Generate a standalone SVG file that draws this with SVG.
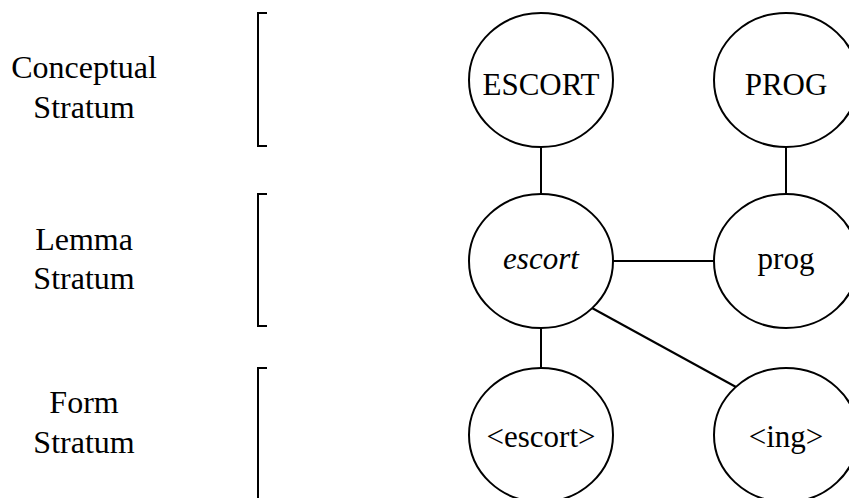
<svg xmlns="http://www.w3.org/2000/svg" width="849" height="498" viewBox="0 0 849 498">
<style>
.n{fill:#fff;stroke:#000;stroke-width:2}
.c{stroke:#000;stroke-width:2;fill:none}
.b{stroke:#000;stroke-width:2;fill:none}
.tx{font-family:'Liberation Serif','DejaVu Serif',serif;fill:#000;text-anchor:middle}
.t{font-size:31px}
.l{font-size:32px}
</style>
<rect width="849" height="498" fill="#fff"/>
<g id="labels" class="tx">
<text class="l" x="84" y="78">Conceptual</text>
<text class="l" x="84" y="118">Stratum</text>
<text class="l" x="84" y="250">Lemma</text>
<text class="l" x="84" y="289">Stratum</text>
<text class="l" x="84" y="413">Form</text>
<text class="l" x="84" y="453">Stratum</text>
</g>
<g id="brackets">
<path class="b" d="M267 13 H258 V146 H267"/>
<path class="b" d="M267 194 H258 V326 H267"/>
<path class="b" d="M267 368 H258 V500"/>
</g>
<g id="connectors">
<line class="c" x1="541" y1="147" x2="541" y2="194"/>
<line class="c" x1="786" y1="147" x2="786" y2="194"/>
<line class="c" x1="613" y1="261" x2="715" y2="261"/>
<line class="c" x1="541" y1="328" x2="541" y2="368"/>
<line class="c" x1="592" y1="308" x2="736" y2="387"/>
</g>
<g class="tx">
<g id="ESCORT"><ellipse class="n" cx="541" cy="80" rx="72" ry="67"/><text class="t" x="541" y="95">ESCORT</text></g>
<g id="PROG"><ellipse class="n" cx="786" cy="80" rx="72" ry="67"/><text class="t" x="786" y="95">PROG</text></g>
<g id="escort"><ellipse class="n" cx="541" cy="261" rx="72" ry="67"/><text class="t" x="541" y="269" font-style="italic">escort</text></g>
<g id="prog"><ellipse class="n" cx="786" cy="261" rx="72" ry="67"/><text class="t" x="786" y="269">prog</text></g>
<g id="escort-form"><ellipse class="n" cx="541" cy="435" rx="72" ry="67"/><text class="t" x="541" y="447">&lt;escort&gt;</text></g>
<g id="ing-form"><ellipse class="n" cx="786" cy="435" rx="72" ry="67"/><text class="t" x="786" y="447">&lt;ing&gt;</text></g>
</g>
</svg>
